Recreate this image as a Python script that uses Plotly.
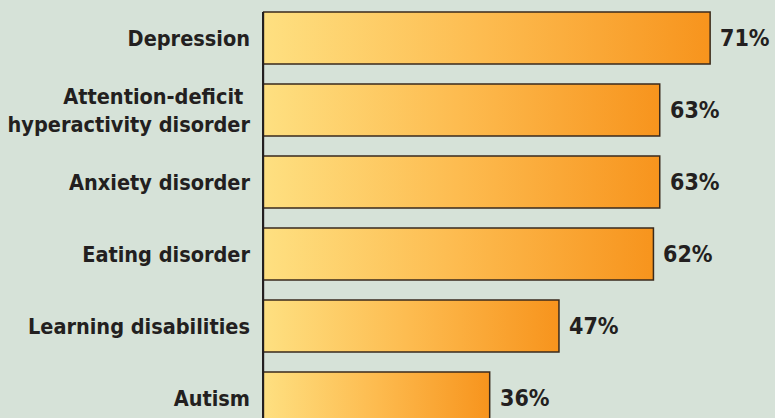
import plotly.graph_objects as go

categories = ["Depression", "Attention-deficit <br>hyperactivity disorder", "Anxiety disorder",
              "Eating disorder", "Learning disabilities", "Autism"]
values = [71, 63, 63, 62, 47, 36]
value_labels = ["71%", "63%", "63%", "62%", "47%", "36%"]

BG = "#d6e2d8"
FONT = '"Liberation Sans Narrow", "DejaVu Sans Condensed", "Arial Narrow", sans-serif'
half = 0.36

fig = go.Figure()
for i, (v, lab) in enumerate(zip(values, value_labels)):
    fig.add_trace(go.Scatter(
        x=[0, v, v, 0, 0],
        y=[i - half, i - half, i + half, i + half, i - half],
        mode="lines", fill="toself",
        fillgradient=dict(type="horizontal",
                          colorscale=[[0, "#fee081"], [0.5, "#fdbb4f"], [1, "#f7941d"]]),
        line=dict(color="#3a2a1c", width=1.5),
        hoverinfo="skip", showlegend=False,
    ))
    fig.add_annotation(x=v, y=i, text=f"<b>{lab}</b>", showarrow=False,
                       xanchor="left", xshift=8,
                       font=dict(family=FONT, size=23, color="#231f20"))

fig.add_shape(type="line", xref="x", yref="y", x0=0, x1=0, y0=-half, y1=5.3,
              line=dict(color="#231f20", width=2.5), layer="above")

fig.update_layout(
    width=775, height=418,
    margin=dict(l=262, r=0, t=0, b=0),
    paper_bgcolor=BG, plot_bgcolor=BG,
    xaxis=dict(range=[-0.15, 81.3], visible=False, fixedrange=True),
    yaxis=dict(range=[5.278, -0.528], tickmode="array",
               tickvals=list(range(len(categories))),
               ticktext=[f"<b>{c}</b>" for c in categories],
               tickfont=dict(family=FONT, size=21.5, color="#231f20"),
               showgrid=False, zeroline=False, showline=False,
               ticks="", ticklabelstandoff=11, fixedrange=True),
)

fig.write_html("out.html")
